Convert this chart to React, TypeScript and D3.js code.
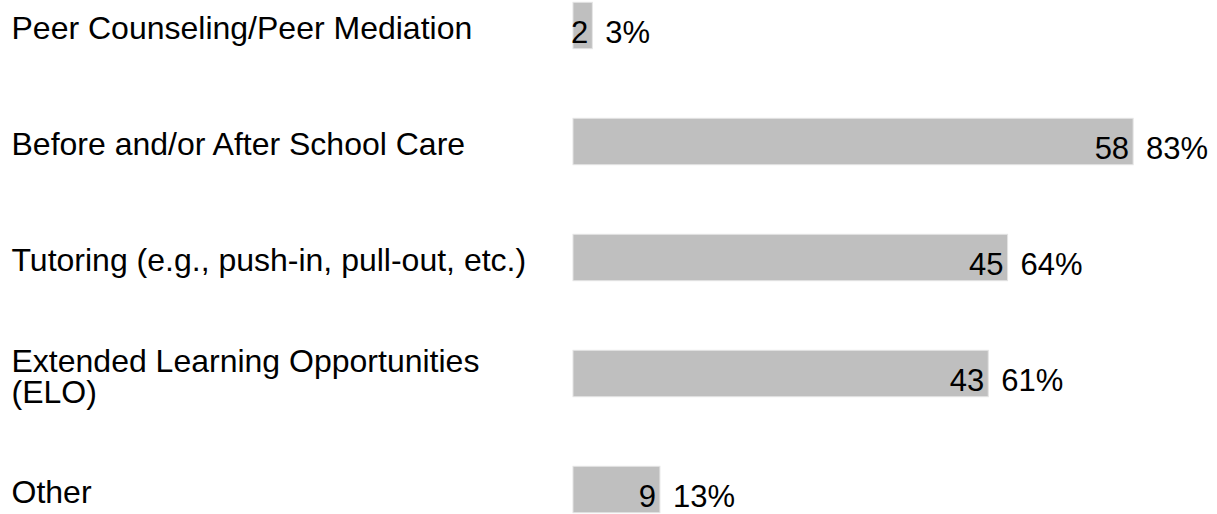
import React from "react";
import * as d3 from "d3";

// categories (top to bottom), split into lines where the label wraps
const categories = [
  "Peer Counseling/Peer Mediation",
  "Before and/or After School Care",
  "Tutoring (e.g., push-in, pull-out, etc.)",
  "Extended Learning Opportunities (ELO)",
  "Other",
];
const labelLines = [
  ["Peer Counseling/Peer Mediation"],
  ["Before and/or After School Care"],
  ["Tutoring (e.g., push-in, pull-out, etc.)"],
  ["Extended Learning Opportunities", "(ELO)"],
  ["Other"],
];
const counts = [2, 58, 45, 43, 9];
const percents = ["3%", "83%", "64%", "61%", "13%"];
const total = 70;

const App = () => {
  const width = 1217;
  const height = 514;

  const x = d3.scaleLinear().domain([0, total]).range([573, 1249]);
  const y = d3
    .scaleBand<string>()
    .domain(categories)
    .range([-32.5, 547.5])
    .paddingInner(0.6)
    .paddingOuter(0.3);

  const font = "Liberation Sans, Arial, Helvetica, sans-serif";

  return (
    <svg
      width={width}
      height={height}
      style={{ position: "absolute", left: 0, top: 0, background: "#fff" }}
    >
      {categories.map((c, i) => {
        const top = y(c)!;
        const mid = top + y.bandwidth() / 2;
        const lines = labelLines[i];
        const lh = 31;
        const first = mid + 13.5 - ((lines.length - 1) * lh) / 2;
        return (
          <g key={c}>
            <text x={11.5} fontFamily={font} fontSize={32} fill="#000">
              {lines.map((l, j) => (
                <tspan key={j} x={11.5} y={first + j * lh}>
                  {l}
                </tspan>
              ))}
            </text>
            <rect
              x={x(0)}
              y={top}
              width={x(counts[i]) - x(0)}
              height={y.bandwidth()}
              fill="#bfbfbf"
              stroke="#e4e4e4"
              strokeWidth={1}
            />
            <text
              x={x(counts[i]) - 4}
              y={mid + 17.5}
              textAnchor="end"
              fontFamily={font}
              fontSize={31}
              fill="#000"
            >
              {counts[i]}
            </text>
            <text
              x={x(counts[i]) + 13}
              y={mid + 17.5}
              fontFamily={font}
              fontSize={31}
              fill="#000"
            >
              {percents[i]}
            </text>
          </g>
        );
      })}
    </svg>
  );
};

export default App;
